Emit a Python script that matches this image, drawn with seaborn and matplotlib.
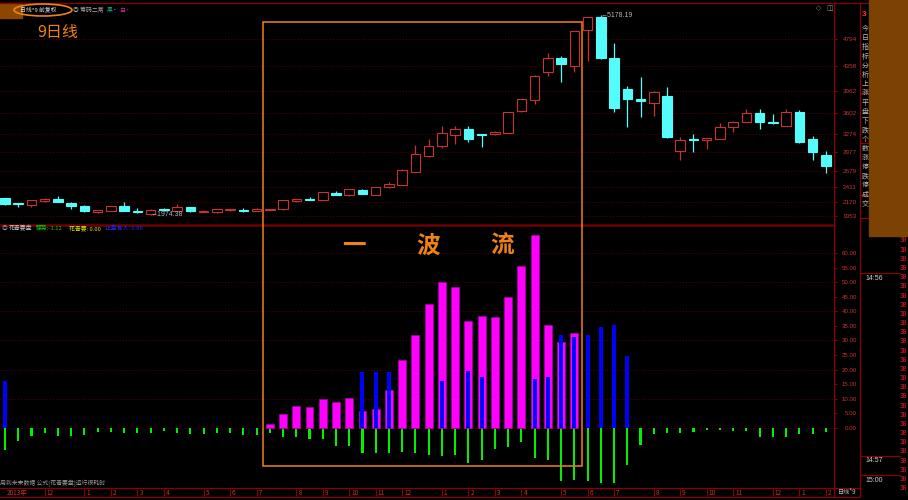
import numpy as np
import pandas as pd
import seaborn as sns
from matplotlib import pyplot as plt
from matplotlib.patches import Ellipse, Rectangle

# 9-day candles
opens = [2237, 2143, 2125, 2189, 2226, 2166, 2112, 2012, 2038, 2114,
         2033, 1990, 2056, 2038, 2093, 2022, 2017, 2044, 2054, 2038,
         2049, 2060, 2189, 2231, 2205, 2327, 2285, 2375, 2295, 2414,
         2446, 2664, 2921, 3077, 3258, 3354, 3260, 3264, 3290, 3643,
         3810, 4259, 4489, 4365, 4938, 5152, 4484, 3987, 3826, 3772,
         3884, 3001, 3185, 3168, 3194, 3381, 3462, 3601, 3446, 3402,
         3617, 3194, 2932]
highs = [2245, 2166, 2208, 2237, 2269, 2170, 2125, 2052, 2115, 2183,
         2077, 2062, 2077, 2141, 2100, 2042, 2063, 2068, 2086, 2075,
         2062, 2208, 2230, 2253, 2337, 2359, 2386, 2380, 2421, 2494,
         2712, 3093, 3189, 3402, 3398, 3402, 3262, 3315, 3626, 3835,
         4210, 4574, 4521, 4930, 5152, 5178, 4734, 4040, 4189, 3959,
         4019, 3226, 3264, 3205, 3441, 3470, 3666, 3666, 3595, 3675,
         3650, 3237, 3001]
lows = [2135, 2102, 2093, 2185, 2170, 2070, 2024, 1996, 2035, 2034,
        2008, 1974, 2033, 2035, 2024, 2015, 2001, 2040, 2017, 2035,
        2046, 2056, 2185, 2206, 2202, 2286, 2282, 2307, 2290, 2410,
        2443, 2660, 2900, 3044, 3109, 3141, 3056, 3250, 3286, 3630,
        3751, 4200, 4109, 4269, 4446, 4480, 3627, 3377, 3547, 3558,
        3210, 2852, 2985, 3028, 3190, 3306, 3458, 3345, 3430, 3398,
        3130, 2852, 2638]
closes = [2141, 2140, 2205, 2226, 2173, 2112, 2028, 2049, 2112, 2038,
          2012, 2054, 2052, 2097, 2028, 2038, 2060, 2065, 2040, 2070,
          2060, 2205, 2226, 2210, 2333, 2290, 2382, 2311, 2418, 2467,
          2686, 2943, 3077, 3280, 3345, 3189, 3256, 3301, 3622, 3826,
          4205, 4484, 4393, 4922, 5142, 4484, 3691, 3826, 3799, 3938,
          3216, 3173, 3180, 3200, 3377, 3466, 3601, 3457, 3440, 3617,
          3136, 2985, 2760]

# 花青要盘 indicator
green_vals = [-7.5, -4.3, -2.6, -1.8, -2.6, -2.6, -2.3, -1.5, -1.5, -1.7,
              -1.6, -1.6, -1.1, -1.6, -2.1, -2.1, -1.8, -1.8, -2.5, -2.5,
              -1.8, -3.2, -3.2, -3.7, -3.7, -6.1, -6.1, -8.7, -8.7, -8.7,
              -8.1, -8.7, -9.1, -9.6, -9.4, -11.9, -10.9, -7.3, -6.4, -4.7,
              -10.3, -10.9, -18.3, -17.8, -18.1, -19.0, -18.8, -12.8, -5.8, -2.1,
              -1.6, -1.6, -1.3, -0.7, -0.8, -1.0, -1.1, -3.1, -3.1, -3.2,
              -2.1, -2.1, -1.4]
magenta_idx = list(range(20, 44))
magenta_vals = [1.5, 4.9, 7.4, 7.2, 10.1, 9.0, 10.2, 5.9, 6.6, 13.1,
                23.2, 32.0, 42.6, 50.2, 48.4, 36.7, 38.4, 38.2, 44.8, 55.5,
                66.2, 35.2, 29.5, 32.6]
blue_idx = [0, 27, 28, 29, 33, 35, 36, 40, 41, 42, 43, 44, 45, 46, 47]
blue_vals = [16.1, 19.3, 19.3, 19.3, 16.1, 19.5, 17.5, 16.8, 17.5, 31.9,
             31.3, 31.8, 34.7, 35.4, 24.7]

price_ticks = [1953, 2170, 2411, 2679, 2977, 3274, 3602, 3962, 4358, 4794]
ind_ticks = [0, 5, 10, 15, 20, 25, 30, 35, 40, 45, 50, 55, 60]
ind_grid = [0, 10, 20, 30, 40, 50, 60]

date_idx = [0, 3, 6, 8, 10, 12, 15, 17, 19, 22, 24, 26, 28, 30, 33, 35, 37,
            39, 42, 44, 46, 49, 51, 53, 55, 58, 60, 62]
date_labels = ["2013年", "12", "1", "2", "3", "4", "5", "6", "7", "8", "9",
               "10", "11", "12", "1", "2", "3", "4", "5", "6", "7", "8", "9",
               "10", "11", "12", "1", "2"]

RED = "#c83232"
CYAN = "#54fcfc"
ORANGE = "#f08214"
GRID = "#5c0000"
AXIS = "#8b0000"
NUM = ["Liberation Sans", "DejaVu Sans"]

W, H = 908, 500
BAR_PX = 13.24
X0 = 5


def rect(x0, y0, x1, y1):
    return [x0 / W, 1 - y1 / H, (x1 - x0) / W, (y1 - y0) / H]


def style_right_axis(ax, ticks, labels, size):
    ax.yaxis.tick_right()
    ax.set_yticks(ticks)
    ax.set_yticklabels(labels)
    ax.tick_params(axis="y", right=True, left=False, labelright=True, labelleft=False,
                   length=2.2, width=0.7, color=AXIS, labelcolor=RED,
                   labelsize=size, pad=14.4)
    for lab in ax.get_yticklabels():
        lab.set_ha("right")
        lab.set_family(NUM)
    ax.set_xticks([])
    for s in ax.spines.values():
        s.set_visible(False)
    ax.grid(False)


def draw_candles(ax):
    idx = np.arange(len(opens))
    o = np.array(opens, float)
    c = np.array(closes, float)
    up = c > o
    cols = np.where(up, RED, CYAN)
    ax.vlines(idx, lows, highs, colors=cols, lw=0.9, zorder=2)
    ax.bar(idx, np.maximum(np.abs(c - o), 16), bottom=np.minimum(o, c), width=0.72,
           color=np.where(up, "black", CYAN), edgecolor=cols, linewidth=0.8, zorder=3)
    for t in price_ticks:
        ax.axhline(t, color=GRID, lw=0.7, ls=(0, (1, 2)), zorder=1)
    hi = int(np.argmax(highs))
    lo = int(np.argmin(lows))
    ax.text(hi, highs[hi], "←%.2f" % 5178.19, color="#b4b4b4", fontsize=5,
            family=NUM, ha="left", va="center", zorder=5)
    ax.text(lo, lows[lo], "←%.2f" % 1974.38, color="#b4b4b4", fontsize=5,
            family=NUM, ha="left", va="center", zorder=5)


def draw_indicator(ax):
    for t in ind_grid:
        ax.axhline(t, color=GRID, lw=0.7, ls=(0, (1, 2)), zorder=0)
    g = pd.DataFrame({"idx": range(len(green_vals)), "v": green_vals})
    m = pd.DataFrame({"idx": magenta_idx, "v": magenta_vals})
    b = pd.DataFrame({"idx": blue_idx, "v": blue_vals})
    sns.barplot(data=g, x="idx", y="v", native_scale=True, width=0.16, color="#00f000",
                saturation=1, errorbar=None, linewidth=0, ax=ax)
    sns.barplot(data=m, x="idx", y="v", native_scale=True, width=0.6, color="#ff00ff",
                saturation=1, errorbar=None, edgecolor="#a000a0", linewidth=0.6, ax=ax)
    sns.barplot(data=b, x="idx", y="v", native_scale=True, width=0.3, color="#0000ff",
                saturation=1, errorbar=None, linewidth=0, ax=ax)


def draw_dates(ax, xlim):
    ax.set_xlim(xlim)
    ax.set_ylim(0, 1)
    ax.set_xticks([])
    ax.set_yticks([])
    for s in ax.spines.values():
        s.set_visible(False)
    ax.vlines(date_idx[1:], 0.1, 0.9, colors=AXIS, lw=0.8)
    for i, lab in zip(date_idx, date_labels):
        ax.text(i + 0.15, 0.45, lab, color="#d03030", fontsize=4.6,
                family=["Noto Sans CJK SC", "DejaVu Sans"], ha="left", va="center")


def decorate(ov):
    ov.set_xlim(0, W)
    ov.set_ylim(H, 0)
    ov.axis("off")
    ov.patch.set_alpha(0)
    line = dict(color=AXIS, lw=0.9)
    ov.plot([0, W], [2.5, 2.5], **line)
    ov.plot([834, 834], [3, 497], **line)
    ov.plot([860, 860], [3, 497], **line)
    ov.plot([0, 834], [225, 225], color="#700000", lw=1.8)
    ov.plot([0, 860], [488, 488], **line)
    ov.plot([0, 860], [497, 497], **line)

    # header
    ov.add_patch(Rectangle((0, 3), 22, 15, color="#8c4600", zorder=1))
    ov.add_patch(Ellipse((43, 10), 58, 12, fill=False, ec=ORANGE, lw=1.2, zorder=3))
    ov.text(20, 10, "日线*9 前复权", color="#e0e0e0", fontsize=4.2, va="center")
    ov.text(73, 10, "◎ 筹码二常", color="#b0b0b0", fontsize=4.2, va="center")
    ov.text(107, 10, "黑·", color="#20b090", fontsize=4.2, va="center")
    ov.text(119, 10, "白·", color="#e020a0", fontsize=4.2, va="center")
    ov.text(816, 8, "◇", color="#909090", fontsize=5, family="DejaVu Sans", va="center")
    ov.text(826, 8, "◫", color="#909090", fontsize=5, family="DejaVu Sans", va="center")
    ov.text(37, 32, "9日线", color=ORANGE, fontsize=11.5, va="center")

    # lower panel header
    ov.text(2, 228.5, "◎", color="#a0a0a0", fontsize=4.2, va="center")
    ov.text(9, 228.5, "花青要盘", color="#c8c8c8", fontsize=4.2, va="center")
    ov.text(36, 228.5, "强势:-1.12", color="#00e000", fontsize=4.2, va="center")
    ov.text(69, 228.5, "花青要: 0.00", color="#e0e000", fontsize=4.2, va="center")
    ov.text(105, 228.5, "止盈有人: 0.00", color="#2828ff", fontsize=4.2, va="center")

    # wave box
    ov.add_patch(Rectangle((263, 22), 319, 444, fill=False, ec=ORANGE, lw=1.1, zorder=4))
    for x, ch in [(354, "一"), (428, "波"), (502, "流")]:
        ov.text(x, 246, ch, color=ORANGE, fontsize=17, weight="bold",
                ha="center", va="center", zorder=4)

    ov.text(0, 483, "用到未来数据 公式[花青要盘]运行很耗时", color="#9a9a9a",
            fontsize=4.2, va="center")
    ov.text(838, 492.5, "日线*9", color="#c0c0c0", fontsize=4.4, va="center")

    # right side panel
    side = "今日指标分析上涨平盘下跌个数涨停跌停成交额主力资金净流入"
    for k, ch in enumerate(side[:20]):
        ov.text(862, 29 + 9.2 * k, ch, color="#b8b8b8", fontsize=5, va="center")
    for y in [93, 143, 195, 218]:
        ov.plot([860, 870], [y, y], **line)
    ov.text(862, 14, "3", color="#ff3030", fontsize=6, weight="bold",
            family=NUM, va="center")
    ov.add_patch(Rectangle((869, 0), 40, 236, color="#7b4204", zorder=5))
    for y, t in [(273, "14:56"), (456, "14:57"), (475, "15:00")]:
        ov.plot([860, 900], [y, y], **line)
        ov.text(865, y + 5, t, color="#d0d0d0", fontsize=5, family=NUM, va="center")
    for k in range(28):
        ov.text(900, 241 + 9.17 * k, "38", color="#e02020", fontsize=4.8,
                family=NUM, va="center")


def main():
    sns.set_theme(style="dark", rc={"axes.facecolor": "black", "figure.facecolor": "black"})
    plt.rcParams["font.family"] = ["Noto Sans CJK SC", "DejaVu Sans"]
    plt.rcParams["axes.unicode_minus"] = False

    fig = plt.figure(figsize=(W / 100, H / 100), dpi=100)
    fig.patch.set_facecolor("black")
    xlim = (-X0 / BAR_PX, (834 - X0) / BAR_PX)

    ax = fig.add_axes(rect(0, 4, 834, 224))
    ax.set_facecolor("black")
    draw_candles(ax)
    ax.set_xlim(xlim)
    ax.set_ylim(1953 - 8 * 16.05, 1953 + 212 * 16.05)
    style_right_axis(ax, price_ticks, [str(t) for t in price_ticks], 4.6)

    ax2 = fig.add_axes(rect(0, 226, 834, 487))
    ax2.set_facecolor("black")
    draw_indicator(ax2)
    ax2.set_xlim(xlim)
    ax2.set_ylim(-(487 - 428) / 2.917, (428 - 226) / 2.917)
    ax2.set_xlabel("")
    ax2.set_ylabel("")
    style_right_axis(ax2, ind_ticks, ["%.2f" % t for t in ind_ticks], 4.4)

    ax3 = fig.add_axes(rect(0, 488, 834, 497))
    ax3.set_facecolor("black")
    draw_dates(ax3, xlim)

    ov = fig.add_axes([0, 0, 1, 1], zorder=10)
    decorate(ov)

    fig.savefig("out.png", dpi=100, facecolor="black")


main()
